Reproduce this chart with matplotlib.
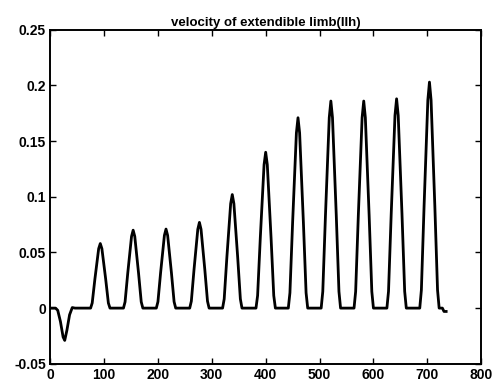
import matplotlib
matplotlib.use('Agg')
import matplotlib.pyplot as plt

# trace vertices (time vs velocity)
t = [0, 10, 14, 19, 24, 27, 31, 36, 41, 46,
     75, 78, 83, 90, 93, 96, 103, 108, 111,
     136, 139, 144, 151, 154, 157, 164, 169, 172,
     197, 200, 205, 212, 215, 218, 225, 230, 233,
     259, 262, 267, 274, 277, 280, 287, 292, 295,
     320, 323, 328, 335, 338, 341, 348, 353, 356,
     382, 385, 390, 397, 400, 403, 410, 415, 418,
     442, 445, 450, 457, 460, 463, 470, 475, 478,
     503, 506, 511, 518, 521, 524, 531, 536, 539,
     564, 567, 572, 579, 582, 585, 592, 597, 600,
     625, 628, 633, 640, 643, 646, 653, 658, 661,
     686, 689, 694, 701, 704, 707, 714, 719, 722,
     728, 731, 735]
vel = [0, 0, -0.002, -0.012, -0.026, -0.029, -0.020, -0.006, 0.0005, 0,
       0, 0.0046, 0.0261, 0.0534, 0.058, 0.0534, 0.0261, 0.0046, 0,
       0, 0.0056, 0.0315, 0.0644, 0.070, 0.0644, 0.0315, 0.0056, 0,
       0, 0.0057, 0.0320, 0.0653, 0.071, 0.0653, 0.0320, 0.0057, 0,
       0, 0.0062, 0.0347, 0.0708, 0.077, 0.0708, 0.0347, 0.0062, 0,
       0, 0.0082, 0.0459, 0.0938, 0.102, 0.0938, 0.0459, 0.0082, 0,
       0, 0.0112, 0.0630, 0.1288, 0.140, 0.1288, 0.0630, 0.0112, 0,
       0, 0.0137, 0.0770, 0.1573, 0.171, 0.1573, 0.0770, 0.0137, 0,
       0, 0.0149, 0.0837, 0.1711, 0.186, 0.1711, 0.0837, 0.0149, 0,
       0, 0.0149, 0.0837, 0.1711, 0.186, 0.1711, 0.0837, 0.0149, 0,
       0, 0.0150, 0.0846, 0.1730, 0.188, 0.1730, 0.0846, 0.0150, 0,
       0, 0.0162, 0.0914, 0.1868, 0.203, 0.1868, 0.0914, 0.0162, 0,
       0, -0.003, -0.003]

xticks = [0, 100, 200, 300, 400, 500, 600, 700, 800]
yticks = [-0.05, 0, 0.05, 0.1, 0.15, 0.2, 0.25]
ylabels = ['-0.05', '0', '0.05', '0.1', '0.15', '0.2', '0.25']

plt.rcParams['font.family'] = ['Liberation Sans', 'DejaVu Sans']

fig = plt.figure(figsize=(4.92, 3.92), dpi=100, facecolor='white')
ax = fig.add_axes([0.102, 0.072, 0.876, 0.852])
ax.plot(t, vel, color='black', lw=2.0)

ax.set_xlim(0, 800)
ax.set_ylim(-0.05, 0.25)
ax.set_xticks(xticks)
ax.set_yticks(yticks)
ax.set_yticklabels(ylabels)
ax.tick_params(direction='in', length=4, width=1, top=True, right=True,
               labelsize=10, pad=3, colors='black')
for lbl in ax.get_xticklabels() + ax.get_yticklabels():
    lbl.set_fontweight('bold')
for s in ax.spines.values():
    s.set_linewidth(1.4)
ax.set_title('velocity of extendible limb(IIh)', fontsize=9.5,
             fontweight='bold', pad=3)

fig.savefig('out.png', dpi=100, facecolor='white')
